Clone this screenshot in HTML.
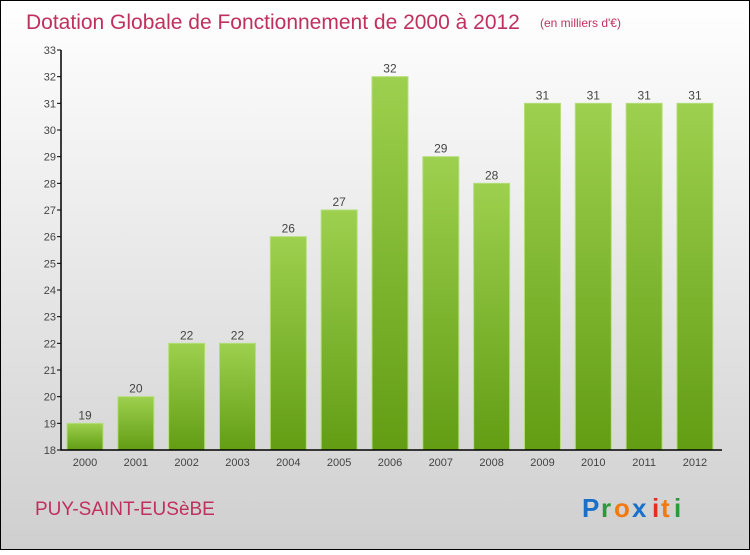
<!DOCTYPE html>
<html><head><meta charset="utf-8"><style>
html,body{margin:0;padding:0}
body{width:750px;height:550px;overflow:hidden;font-family:"Liberation Sans",sans-serif}
</style></head><body>
<svg id="chart" width="750" height="550" xmlns="http://www.w3.org/2000/svg">
<defs>
<linearGradient id="bg" x1="0" y1="0" x2="0" y2="1"><stop offset="0" stop-color="#ffffff"/><stop offset="1" stop-color="#cfcfcf"/></linearGradient>
<linearGradient id="bar" x1="0" y1="0" x2="0" y2="1"><stop offset="0" stop-color="#9dd04e"/><stop offset="1" stop-color="#629d14"/></linearGradient>
</defs>
<rect x="0.5" y="0.5" width="749" height="549" fill="url(#bg)" stroke="#000"/>
<text x="26" y="29" font-size="21" fill="#c0305e">Dotation Globale de Fonctionnement de 2000 à 2012</text>
<text x="540" y="27" font-size="12" fill="#c0305e">(en milliers d'€)</text>
<g id="bars"></g>
<g id="yaxis"></g>
<g id="xaxis"></g>
<text x="35" y="515" font-size="19" fill="#c0305e">PUY-SAINT-EUSèBE</text>
<g font-size="26" font-weight="bold" font-family="'Liberation Sans',sans-serif">
<text x="582" y="517" fill="#1a70c8">P</text><text x="601" y="517" fill="#2a9a3a">r</text><text x="614" y="517" fill="#f07a10">o</text><text x="632" y="517" fill="#1a70c8">x</text><text x="652" y="517" fill="#e03020">i</text><text x="661" y="517" fill="#f07a10">t</text><text x="674" y="517" fill="#2a9a3a">i</text>
</g>
</svg>
<script>
const years=["2000","2001","2002","2003","2004","2005","2006","2007","2008","2009","2010","2011","2012"];
const values=[19,20,22,22,26,27,32,29,28,31,31,31,31];
const yTicks=[18,19,20,21,22,23,24,25,26,27,28,29,30,31,32,33];
const NS="http://www.w3.org/2000/svg";
const y0=450,yMin=18,pxPer=400/15,x0=85,step=50.83,bw=36;
const Y=v=>y0-(v-yMin)*pxPer;
const X=i=>x0+i*step;
function mk(t,a,p){const e=document.createElementNS(NS,t);for(const k in a)e.setAttribute(k,a[k]);p.appendChild(e);return e;}
const bars=document.getElementById('bars'),ya=document.getElementById('yaxis'),xa=document.getElementById('xaxis');
values.forEach((v,i)=>{
 const r=mk('rect',{x:X(i)-bw/2,y:Y(v),width:bw,height:y0-Y(v),fill:'url(#bar)',stroke:'#b4df7a','stroke-width':1},bars);
 
 
 const t=mk('text',{x:X(i),y:Y(v)-4,'text-anchor':'middle','font-size':12,fill:'#444'},bars);t.textContent=v;
 
 
 const xl=mk('text',{x:X(i),y:466,'text-anchor':'middle','font-size':11,fill:'#444'},xa);xl.textContent=years[i];
 
 
});
const al=mk('path',{d:'M61,50 V450 H722',stroke:'#000','stroke-width':1.5,fill:'none'},ya);


yTicks.forEach(v=>{
 mk('line',{x1:57,x2:61,y1:Y(v),y2:Y(v),stroke:'#000'},ya);
 const t=mk('text',{x:56,y:Y(v)+4,'text-anchor':'end','font-size':11,fill:'#444'},ya);t.textContent=v;
 
 
});
</script>
</body></html>
